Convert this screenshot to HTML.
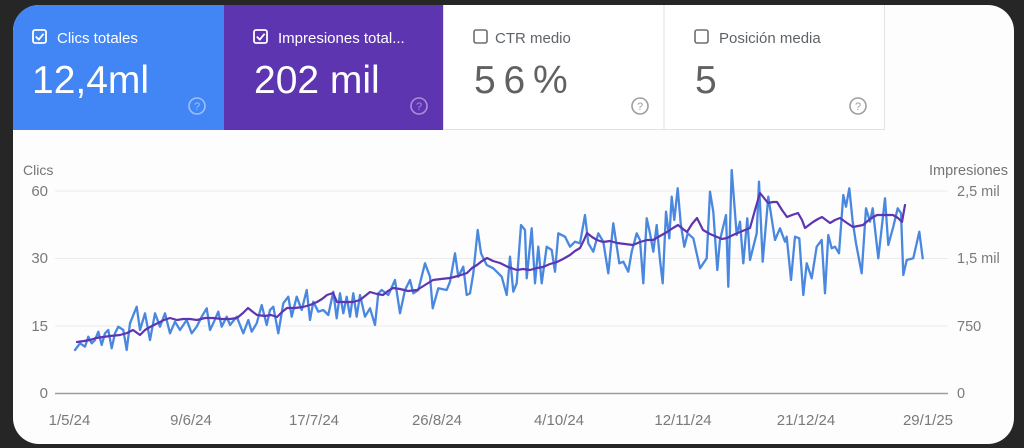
<!DOCTYPE html>
<html>
<head>
<meta charset="utf-8">
<style>
html,body{margin:0;padding:0;background:#262626;}
body{width:1024px;height:448px;overflow:hidden;}
svg{display:block;font-family:"Liberation Sans",Arial,sans-serif;}
</style>
</head>
<body>
<svg width="1024" height="448" viewBox="0 0 1024 448" xmlns="http://www.w3.org/2000/svg">
<defs>
<clipPath id="card"><rect x="13" y="5" width="1001" height="439" rx="26" ry="26"/></clipPath>
</defs>
<rect x="0" y="0" width="1024" height="448" fill="#262626"/>
<g clip-path="url(#card)">
<rect x="13" y="5" width="1001" height="439" fill="#fdfdfd"/>
<rect x="13" y="5" width="211" height="125" fill="#4285f4"/>
<rect x="224" y="5" width="219" height="125" fill="#5e35b1"/>
<rect x="443.5" y="4.5" width="220.5" height="125" fill="#ffffff" stroke="#e2e2e2" stroke-width="1"/>
<rect x="664" y="4.5" width="220.5" height="125" fill="#ffffff" stroke="#e2e2e2" stroke-width="1"/>
</g>

<!-- Tile 1 -->
<rect x="33" y="30" width="13" height="13" rx="2" fill="none" stroke="#ffffff" stroke-width="1.8"/>
<path d="M35.8 36.6 L38.8 39.6 L43.6 33.8" fill="none" stroke="#ffffff" stroke-width="1.8"/>
<text x="57" y="43" font-size="15" fill="#ffffff">Clics totales</text>
<text x="32" y="93" font-size="39" fill="#ffffff">12,4ml</text>
<circle cx="197" cy="106" r="8" fill="none" stroke="#9cc0fa" stroke-width="1.6"/>
<text x="197" y="110" font-size="11" fill="#9cc0fa" text-anchor="middle">?</text>

<!-- Tile 2 -->
<rect x="254" y="30" width="13" height="13" rx="2" fill="none" stroke="#ffffff" stroke-width="1.8"/>
<path d="M256.8 36.6 L259.8 39.6 L264.6 33.8" fill="none" stroke="#ffffff" stroke-width="1.8"/>
<text x="278" y="43" font-size="15" fill="#ffffff">Impresiones total...</text>
<text x="254" y="93" font-size="39" fill="#ffffff">202 mil</text>
<circle cx="419" cy="106" r="8" fill="none" stroke="#a88fd6" stroke-width="1.6"/>
<text x="419" y="110" font-size="11" fill="#a88fd6" text-anchor="middle">?</text>

<!-- Tile 3 -->
<rect x="474" y="30" width="13" height="13" rx="2" fill="none" stroke="#6e6e6e" stroke-width="1.6"/>
<text x="495" y="43" font-size="15" fill="#5f6368">CTR medio</text>
<text x="474" y="93" font-size="39" fill="#616161" word-spacing="-3">5 6 %</text>
<circle cx="640" cy="106" r="8" fill="none" stroke="#9e9e9e" stroke-width="1.6"/>
<text x="640" y="110" font-size="11" fill="#9e9e9e" text-anchor="middle">?</text>

<!-- Tile 4 -->
<rect x="695" y="30" width="13" height="13" rx="2" fill="none" stroke="#6e6e6e" stroke-width="1.6"/>
<text x="719" y="43" font-size="15" fill="#5f6368">Posición media</text>
<text x="695" y="93" font-size="39" fill="#616161">5</text>
<circle cx="858" cy="106" r="8" fill="none" stroke="#9e9e9e" stroke-width="1.6"/>
<text x="858" y="110" font-size="11" fill="#9e9e9e" text-anchor="middle">?</text>

<!-- Axis titles -->
<text x="23" y="175" font-size="14" fill="#757575">Clics</text>
<text x="1008" y="175" font-size="14.5" fill="#757575" text-anchor="end">Impresiones</text>

<!-- Grid -->
<line x1="55" y1="191" x2="948" y2="191" stroke="#ebebeb" stroke-width="1"/>
<line x1="55" y1="258.5" x2="948" y2="258.5" stroke="#ebebeb" stroke-width="1"/>
<line x1="55" y1="326" x2="948" y2="326" stroke="#ebebeb" stroke-width="1"/>
<line x1="55" y1="393.5" x2="948" y2="393.5" stroke="#9e9e9e" stroke-width="1.5"/>

<!-- Left ticks -->
<g font-size="15" fill="#7a7a7a" text-anchor="end">
<text x="48" y="196">60</text>
<text x="48" y="263">30</text>
<text x="48" y="331">15</text>
<text x="48" y="398">0</text>
</g>
<!-- Right ticks -->
<g font-size="14.5" fill="#7a7a7a">
<text x="957" y="196">2,5 mil</text>
<text x="957" y="263">1,5 mil</text>
<text x="957" y="331">750</text>
<text x="957" y="398">0</text>
</g>
<!-- X ticks -->
<g font-size="15" fill="#7a7a7a" text-anchor="middle">
<text x="69.5" y="425">1/5/24</text>
<text x="191" y="425">9/6/24</text>
<text x="314" y="425">17/7/24</text>
<text x="437" y="425">26/8/24</text>
<text x="559" y="425">4/10/24</text>
<text x="683" y="425">12/11/24</text>
<text x="806" y="425">21/12/24</text>
<text x="928" y="425">29/1/25</text>
</g>

<!-- Clicks (blue) -->
<polyline fill="none" stroke="#4a88e0" stroke-width="2.3" stroke-linejoin="round" stroke-linecap="round" points="
75,350 80,343.3 85,346.7 88.3,336.7 91.7,343.3 95,340 98.3,331.7 101.7,345 105,333.3 108.3,330 111.7,348.3 115,333.3 118.3,326.7 123.3,330 126.7,350 130,323.3 136.7,306.7 140,330 145,313.3 150,340 155,313.3 160,326.7 165,313.3 170,333.3 175,321.7 180,330 186.7,320 191.7,333.3 196.7,326.7 201.7,316.7 206.7,308.3 210,330 213.3,323.3 218.3,311.7 221.7,326.7 226.7,316.7 230,325 236.7,316.7 243.3,333.3 248.3,320 251.7,331.7 256.7,323.3 261.7,305 266.7,325 270,310 273.3,306.7 278.3,333.3 283.3,303.3 288.3,296.7 291.7,316.7 296.7,296.7 301.7,310 306.7,290 310,320 313.3,301.7 318.3,311.7 323.3,310 328.3,315 333.3,291.7 336.7,318.3 340,293.3 343.3,313.3 346.7,296.7 350,316.7 353.3,293.3 356.7,316.7 360,295
365,316.7 370,308.3 375,325 378.3,293.3 381.7,290 388.3,295 395,280 400,313.3 405,290 410,280 413.3,293.3 418.3,290 425,263.3 430,276.7 432.7,308.3 438.3,288.3 446.7,290 450,281.7 455,253.3 458.3,276.7 463.3,266.7 466.7,295 470,293.3 473.3,273.3 477.7,230 481,253.3 486.7,265 493.3,268.3 501.7,276.7 506.7,295 510,256.7 513.3,291.7 516.7,283.3 521,225 525,230 526.7,278.3 531.7,228.3 535,283.3 538.3,246.7 541.7,283.3 546.7,246.7 551.7,250 555,271.7 558.3,233.3 565,236.7 570,246.7 575,241.7 580,243.3 585,215 588.3,243.3 593.3,251.7 598.3,233.3 603.3,241.7 608.3,273.3 613.3,223.3 619.3,263.3 623.3,261.7 628.3,271.7 631.7,251.7 636.7,233.3 640,240 643.3,283.3 646.7,218.3 650,233.3
653.3,251.7 656.7,225 660,260 662.7,283.3 666,211.7 669.3,238.3 671.7,196.7 674.3,220 677.7,188.3 680.7,223.3 684.3,246.7 687.7,233.3 693.3,238.3 700,268.3 706.7,258.3 710,191.7 713.3,211.7 717.3,270 720,240 726,215 728.3,286.7 731.7,170 736.7,235 740,221.7 743.3,263.3 747.3,218.3 750,260 756.7,233.3 759,181.7 762.7,261.7 768.3,196.7 775,240 780,228.3 785,241.7 786.7,236.7 791,280 795,236.7 799.3,238.3 803.3,295 806.7,263.3 811.7,278.3 816.7,246.7 821.7,240 825,293.3 828.3,235 831.7,248.3 835,246.7 839,253.3 843.3,195 846,206.7 849.3,188.3 852.7,221.7 856,243.3 861.7,273.3 866,208.3 870,221.7 872.7,208.3 878.3,258.3 885,198.3 888.3,245 893.3,226.7 897.7,208.3 901,213.3 903.3,275 906.7,260 913.3,258.3 919.3,231.7 922.7,258.3"/>

<!-- Impressions (purple) -->
<polyline fill="none" stroke="#5e35b1" stroke-width="2.2" stroke-linejoin="round" stroke-linecap="round" points="
77,342 84,341 90,340 96,338 103,337 110,336 120,335 127,333 133,330 140,335 145,330 150,327 158,323 164,320 170,318 177,320 183,319 190,319 197,320 205,318 213,318 222,319 230,319 237,318 243,313 248,308 253,312 257,315 265,316 271,315 277,317 282,312 287,308 295,308 303,307 310,305 317,302 322,299 327,295 333,293 337,302 345,302 353,302 360,300 365,296 370,292 377,294 383,295 388,291 393,288 400,289 408,291 417,290 425,285 433,280 441,279 450,278 458,276 467,273 472,268 477,265 482,261 487,258 493,261 500,263 508,267 517,270 523,269 530,270 537,268 543,267 550,264 557,262 563,259 570,255 575,251 580,248 584,240 587,233 592,237 597,240 603,242 610,241 617,243 625,244 633,245 640,242 647,240 653,240 660,236 667,232 673,228 678,225 683,229 687,232 692,224 697,218 700,224 703,230 710,234 717,237 722,239 727,238 733,235 740,232 745,230 750,228 755,210 760,193 764,198 768,203 773,202 777,202 782,210 787,217 792,215 798,213 802,220 805,228 809,225 813,222 818,219 822,217 826,220 830,223 835,220 840,218 847,223 853,227 858,226 863,225 870,219 877,215 885,215 893,215 898,218 902,222 905,205"/>
</svg>
</body>
</html>
